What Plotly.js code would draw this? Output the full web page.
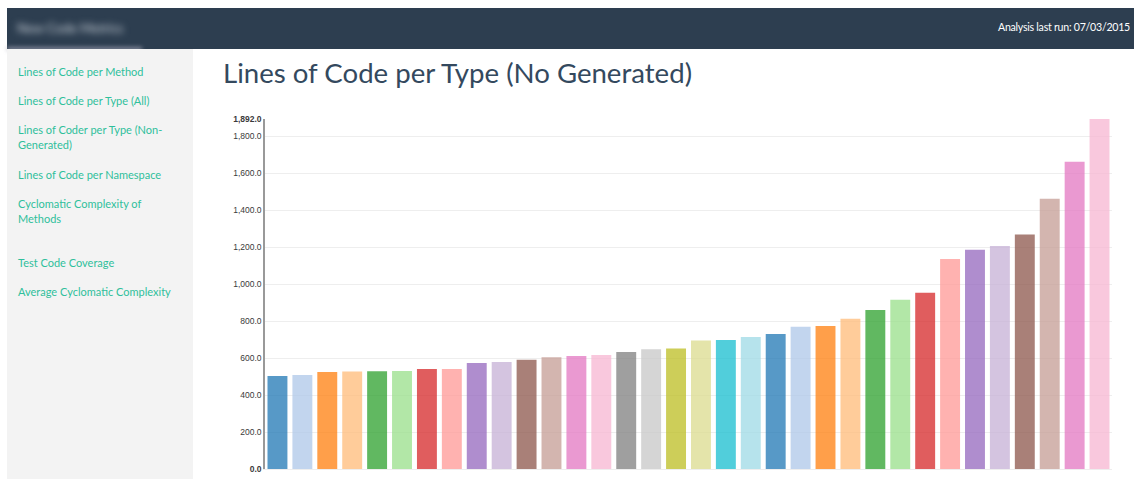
<!DOCTYPE html>
<html>
<head>
<meta charset="utf-8">
<script src="https://cdn.plot.ly/plotly-3.0.1.min.js"></script>
<style>
  html, body { margin:0; padding:0; width:1134px; height:479px; overflow:hidden; background:#fff; font-family: Lato, "Open Sans", sans-serif; }
  #header { position:absolute; left:7px; top:8px; width:1127px; height:41px; background:#2d3e50; }
  #logo { position:absolute; left:10px; top:12px; color:#c9d0d8; font-size:13px; filter:blur(3.5px); white-space:nowrap; }
  #logoShadow { position:absolute; left:7px; top:47px; width:135px; height:4px; background:#aab; filter:blur(2px); opacity:0.7; }
  #lastrun { position:absolute; left:998px; top:21px; color:#fff; font-size:10.6px; letter-spacing:-0.25px; font-weight:normal; white-space:nowrap; }
  #sidebar { position:absolute; left:7px; top:49px; width:186px; height:430px; background:#f3f3f3; }
  .lnk { position:absolute; left:11px; color:#2fbf9b; font-size:11px; line-height:15px; white-space:nowrap; }
  #chart { position:absolute; left:193px; top:49px; width:941px; height:430px; }
</style>
</head>
<body>
<div id="header"><div id="logo">New Code Metrics</div></div>
<div id="logoShadow"></div>
<div id="lastrun">Analysis last run: 07/03/2015</div>
<div id="sidebar">
  <div class="lnk" style="top:15px">Lines of Code per Method</div>
  <div class="lnk" style="top:44px">Lines of Code per Type (All)</div>
  <div class="lnk" style="top:73px">Lines of Coder per Type (Non-<br>Generated)</div>
  <div class="lnk" style="top:118px">Lines of Code per Namespace</div>
  <div class="lnk" style="top:147px">Cyclomatic Complexity of<br>Methods</div>
  <div class="lnk" style="top:206px">Test Code Coverage</div>
  <div class="lnk" style="top:235px">Average Cyclomatic Complexity</div>
</div>
<div id="chart"></div>
<script>
const categories = ["Type 1","Type 2","Type 3","Type 4","Type 5","Type 6","Type 7","Type 8","Type 9","Type 10",
  "Type 11","Type 12","Type 13","Type 14","Type 15","Type 16","Type 17","Type 18","Type 19","Type 20",
  "Type 21","Type 22","Type 23","Type 24","Type 25","Type 26","Type 27","Type 28","Type 29","Type 30",
  "Type 31","Type 32","Type 33","Type 34"];
const linesOfCode = [503, 508, 524, 527, 528, 530, 540, 541, 573, 578,
  591, 604, 611, 616, 632, 647, 652, 694, 697, 714,
  730, 769, 773, 812, 859, 915, 953, 1135, 1185, 1205,
  1268, 1461, 1661, 1892];
const palette = ['#1f77b4','#aec7e8','#ff7f0e','#ffbb78','#2ca02c','#98df8a','#d62728','#ff9896','#9467bd','#c5b0d5',
  '#8c564b','#c49c94','#e377c2','#f7b6d2','#7f7f7f','#c7c7c7','#bcbd22','#dbdb8d','#17becf','#9edae5'];
const tickValues = [0, 200, 400, 600, 800, 1000, 1200, 1400, 1600, 1800, 1892];
const tickLabels = ["<b>0.0</b>","200.0","400.0","600.0","800.0","1,000.0","1,200.0","1,400.0","1,600.0","1,800.0","<b>1,892.0</b>"];

const barColors = categories.map((c, i) => palette[i % palette.length]);

const trace = {
  type: 'bar',
  x: categories,
  y: linesOfCode,
  marker: { color: barColors, opacity: 0.75, line: { width: 0 } },
  hoverinfo: 'x+y'
};

const layout = {
  width: 941, height: 430,
  margin: { l: 72, r: 22, t: 70, b: 10 },
  paper_bgcolor: '#fff', plot_bgcolor: '#fff',
  showlegend: false,
  bargap: 0.2,
  title: {
    text: 'Lines of Code per Type (No Generated)',
    font: { family: 'Lato, sans-serif', size: 27.6, color: '#34495e' },
    xref: 'container', x: 30/941, xanchor: 'left',
    yref: 'container', y: 1 - 24/430, yanchor: 'middle'
  },
  xaxis: {
    showticklabels: false, ticks: '', showgrid: false, zeroline: false,
    showline: true, linecolor: '#eeeeee', linewidth: 1
  },
  yaxis: {
    range: [0, 1892], autorange: false,
    tickmode: 'array', tickvals: tickValues, ticktext: tickLabels,
    tickfont: { family: 'Liberation Sans, Arial, sans-serif', size: 8.5, color: '#3a3a3a' },
    showgrid: true, gridcolor: '#eeeeee', gridwidth: 1,
    zeroline: false, showline: true, linecolor: '#999', linewidth: 1.5,
    ticks: '', ticklabelstandoff: 0
  }
};

Plotly.newPlot('chart', [trace], layout, { displayModeBar: false, staticPlot: false });
</script>
</body>
</html>
